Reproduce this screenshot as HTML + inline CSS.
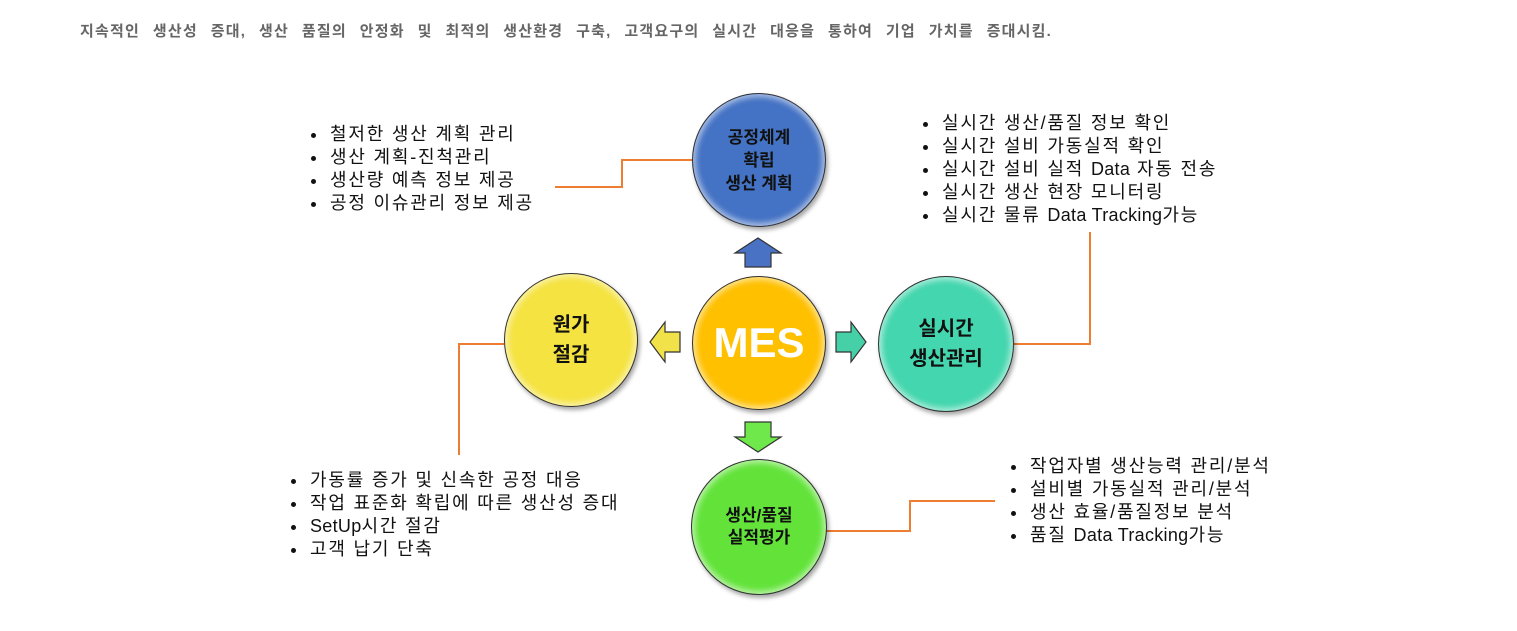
<!DOCTYPE html>
<html><head><meta charset="utf-8"><style>
body{margin:0;width:1517px;height:631px;background:#fff;position:relative;overflow:hidden;font-family:"Liberation Sans","Noto Sans CJK KR",sans-serif}
.c{position:absolute;border-radius:50%;border:1.5px solid #333;box-sizing:border-box;display:flex;align-items:center;justify-content:center;text-align:center;font-weight:bold;color:#111;box-shadow:inset 0 0 6px 3px rgba(255,255,255,.55),2px 3px 4px rgba(0,0,0,.35)}
ul{position:absolute;margin:0;padding:0 0 0 18px;font-size:18px;letter-spacing:1.8px;line-height:23px;color:#111}
li{padding-left:2px}
.l{letter-spacing:0.3px}
svg{position:absolute;left:0;top:0}
</style></head><body>
<div style="position:absolute;left:80px;top:20px;font-size:15px;font-weight:bold;color:#666;letter-spacing:1.2px;word-spacing:7.5px;white-space:nowrap">지속적인 생산성 증대, 생산 품질의 안정화 및 최적의 생산환경 구축, 고객요구의 실시간 대응을 통하여 기업 가치를 증대시킴.</div>
<svg width="1517" height="631">
<g fill="none" stroke="#ED7D31" stroke-width="2">
<polyline points="555,187 622,187 622,160 692,160"/>
<polyline points="1014,344 1090,344 1090,232"/>
<polyline points="504,344 459,344 459,455"/>
<polyline points="826,531 910,531 910,501 995,501"/>
</g>
<g stroke="#333" stroke-width="1.2">
<polygon points="758,238 781,253 771,253 771,267 745,267 745,253 735,253" fill="#4a72c4"/>
<polygon points="650,342 665,322 665,332 680,332 680,352 665,352 665,362" fill="#f1e24a"/>
<polygon points="866,342 851,322 851,332 836,332 836,352 851,352 851,362" fill="#45d0a8"/>
<polygon points="758,452 781,437 771,437 771,422 745,422 745,437 735,437" fill="#6ee84a"/>
</g>
</svg>
<div class="c" style="left:692px;top:93px;width:134px;height:134px;background:#4472C4;font-size:17px;line-height:23px">공정체계<br>확립<br>생산 계획</div>
<div class="c" style="left:692px;top:276px;width:134px;height:134px;background:#FFC000;color:#fff;font-size:42px">MES</div>
<div class="c" style="left:504px;top:273px;width:134px;height:134px;background:#F5E342;font-size:20px;line-height:30px">원가<br>절감</div>
<div class="c" style="left:878px;top:276px;width:136px;height:136px;background:#44D6AE;font-size:20px;line-height:30px">실시간<br>생산관리</div>
<div class="c" style="left:691px;top:459px;width:136px;height:136px;background:#63E33A;font-size:17px;line-height:22px">생산/품질<br>실적평가</div>
<ul style="left:310px;top:123px"><li>철저한 생산 계획 관리</li><li>생산 계획-진척관리</li><li>생산량 예측 정보 제공</li><li>공정 이슈관리 정보 제공</li></ul>
<ul style="left:922px;top:112px"><li>실시간 생산/품질 정보 확인</li><li>실시간 설비 가동실적 확인</li><li>실시간 설비 실적 <span class="l">Data</span> 자동 전송</li><li>실시간 생산 현장 모니터링</li><li>실시간 물류 <span class="l">Data Tracking</span>가능</li></ul>
<ul style="left:290px;top:469px"><li>가동률 증가 및 신속한 공정 대응</li><li>작업 표준화 확립에 따른 생산성 증대</li><li><span class="l">SetUp</span>시간 절감</li><li>고객 납기 단축</li></ul>
<ul style="left:1010px;top:455px"><li>작업자별 생산능력 관리/분석</li><li>설비별 가동실적 관리/분석</li><li>생산 효율/품질정보 분석</li><li>품질 <span class="l">Data Tracking</span>가능</li></ul>
</body></html>
